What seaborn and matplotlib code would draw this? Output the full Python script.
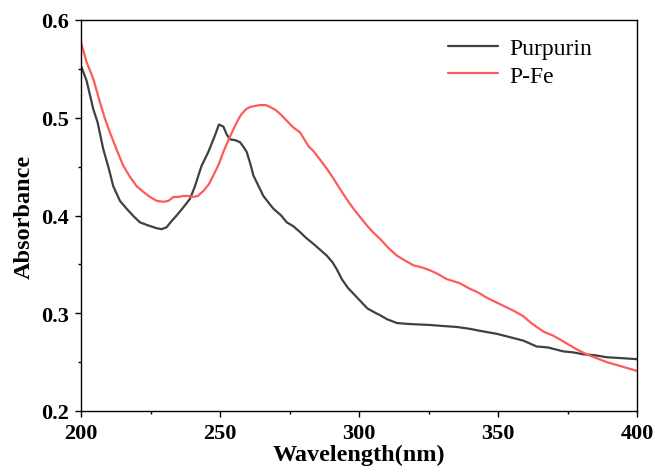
import matplotlib
matplotlib.use("Agg")
import matplotlib.pyplot as plt
import seaborn as sns
import pandas as pd
from matplotlib.ticker import MultipleLocator

sns.set_theme(style="ticks")
plt.rcParams['font.family'] = ['Liberation Serif', 'DejaVu Serif']
plt.rcParams['text.color'] = 'black'
plt.rcParams['axes.labelcolor'] = 'black'
plt.rcParams['xtick.color'] = 'black'
plt.rcParams['ytick.color'] = 'black'

purpurin_x = [200, 202, 204.4, 206, 208, 210, 211.6, 214, 216.4, 219, 221.2, 224, 227.2, 229, 230.8, 232.5, 234.4, 237,
              239.2, 241, 242.8, 243.4, 245.8, 248.2, 249.6, 251.2, 252.4, 253.5, 255.5, 257.2, 258.5, 259.6, 261, 262,
              263.2, 265.6, 267.5, 269.2, 272, 274, 276.4, 278.8, 281, 283.6, 286, 288.4, 290.5, 292, 293.8, 296, 298,
              300, 303, 305.5, 307.6, 310, 313.6, 318, 325.5, 330, 335.1, 340, 343.5, 349.5, 355, 359.1, 363.9, 368,
              373.5, 377, 380.7, 385, 389.1, 395, 400]
purpurin_y = [0.553, 0.538, 0.509, 0.495, 0.468, 0.448, 0.430, 0.415, 0.407, 0.399, 0.393, 0.390, 0.387, 0.386, 0.388, 0.394,
              0.400, 0.409, 0.417, 0.430, 0.446, 0.451, 0.465, 0.482, 0.493, 0.491, 0.483, 0.478, 0.477, 0.475, 0.470, 0.465,
              0.452, 0.441, 0.434, 0.420, 0.413, 0.407, 0.400, 0.393, 0.389, 0.383, 0.377, 0.371, 0.365, 0.359, 0.352,
              0.345, 0.335, 0.326, 0.320, 0.314, 0.305, 0.301, 0.298, 0.294, 0.290, 0.289, 0.288, 0.287, 0.286, 0.284,
              0.282, 0.279, 0.275, 0.272, 0.266, 0.265, 0.261, 0.260, 0.258, 0.257, 0.255, 0.254, 0.253]

pfe_x = [200, 202, 204.4, 206.8, 208.5, 210.4, 213, 215.2, 217.5, 220, 222.5, 224.8, 227.2, 229.6, 231.5, 233.2, 235,
         236.8, 238.5, 240.4, 242, 244, 246, 247.6, 249.5, 251.2, 253, 254.8, 256.5, 257.8, 259.5, 260.8, 262.5, 264.4,
         266.5, 268, 270, 271.6, 274, 276.4, 278.8, 281.8, 283.6, 286, 288.4, 291, 293.2, 295.5, 298, 300.5, 302.8,
         305, 307.6, 310.5, 313.6, 316.5, 319.6, 322.5, 325.5, 328.5, 331.5, 336, 339.9, 343, 345.9, 349.5, 353.1,
         356, 359.1, 361.5, 363.9, 366.5, 369.9, 373, 375.9, 379, 381.9, 385.5, 389.1, 394, 400]
pfe_y = [0.577, 0.557, 0.540, 0.516, 0.500, 0.485, 0.466, 0.451, 0.440, 0.430, 0.424, 0.419, 0.415, 0.414, 0.415, 0.419,
         0.419, 0.420, 0.420, 0.419, 0.420, 0.425, 0.432, 0.441, 0.452, 0.465, 0.477, 0.488, 0.498, 0.504, 0.509, 0.511,
         0.512, 0.513, 0.513, 0.511, 0.508, 0.504, 0.497, 0.490, 0.485, 0.471, 0.466, 0.457, 0.448, 0.437, 0.427,
         0.417, 0.407, 0.398, 0.390, 0.383, 0.376, 0.367, 0.359, 0.354, 0.349, 0.347, 0.344, 0.340, 0.335, 0.331,
         0.325, 0.321, 0.316, 0.311, 0.306, 0.302, 0.297, 0.291, 0.286, 0.281, 0.277, 0.272, 0.267, 0.262, 0.258,
         0.254, 0.250, 0.246, 0.241]

series_names = ["Purpurin", "P-Fe"]
colors = ["#404040", "#FF5A5A"]

df = pd.concat([
    pd.DataFrame({"Wavelength": purpurin_x, "Absorbance": purpurin_y, "Sample": series_names[0]}),
    pd.DataFrame({"Wavelength": pfe_x, "Absorbance": pfe_y, "Sample": series_names[1]}),
])

fig = plt.figure(figsize=(6.55, 4.77), dpi=100)
ax = fig.add_axes([81 / 655, 1 - 412 / 477, 556 / 655, 391 / 477])
sns.lineplot(data=df, x="Wavelength", y="Absorbance", hue="Sample", palette=colors,
             hue_order=series_names, linewidth=1.6, ax=ax, sort=True)

ax.set_xlim(200, 400)
ax.set_ylim(0.2, 0.6)
ax.xaxis.set_major_locator(MultipleLocator(50))
ax.xaxis.set_minor_locator(MultipleLocator(25))
ax.yaxis.set_major_locator(MultipleLocator(0.1))
ax.yaxis.set_minor_locator(MultipleLocator(0.05))
ax.tick_params(which="major", direction="out", length=4.5, width=1.0, labelsize=16, color="black",
               labelcolor="black", pad=4.5)
ax.tick_params(which="minor", direction="out", length=2.5, width=1.0, color="black")
for lab in ax.get_xticklabels() + ax.get_yticklabels():
    lab.set_fontweight("bold")
for sp in ax.spines.values():
    sp.set_linewidth(1.0)
    sp.set_color("black")
ax.set_xlabel("Wavelength(nm)", fontsize=17.5, fontweight="bold", labelpad=0, color="black")
ax.set_ylabel("Absorbance", fontsize=17.5, fontweight="bold", labelpad=4, color="black")

leg = ax.legend(loc="upper left", frameon=False, fontsize=17, handlelength=2.1, handletextpad=0.5,
                bbox_to_anchor=(0.660, 0.955), borderaxespad=0, borderpad=0, labelspacing=0.25)
for t in leg.get_texts():
    t.set_color("black")
fig.savefig("out.png", dpi=100)
